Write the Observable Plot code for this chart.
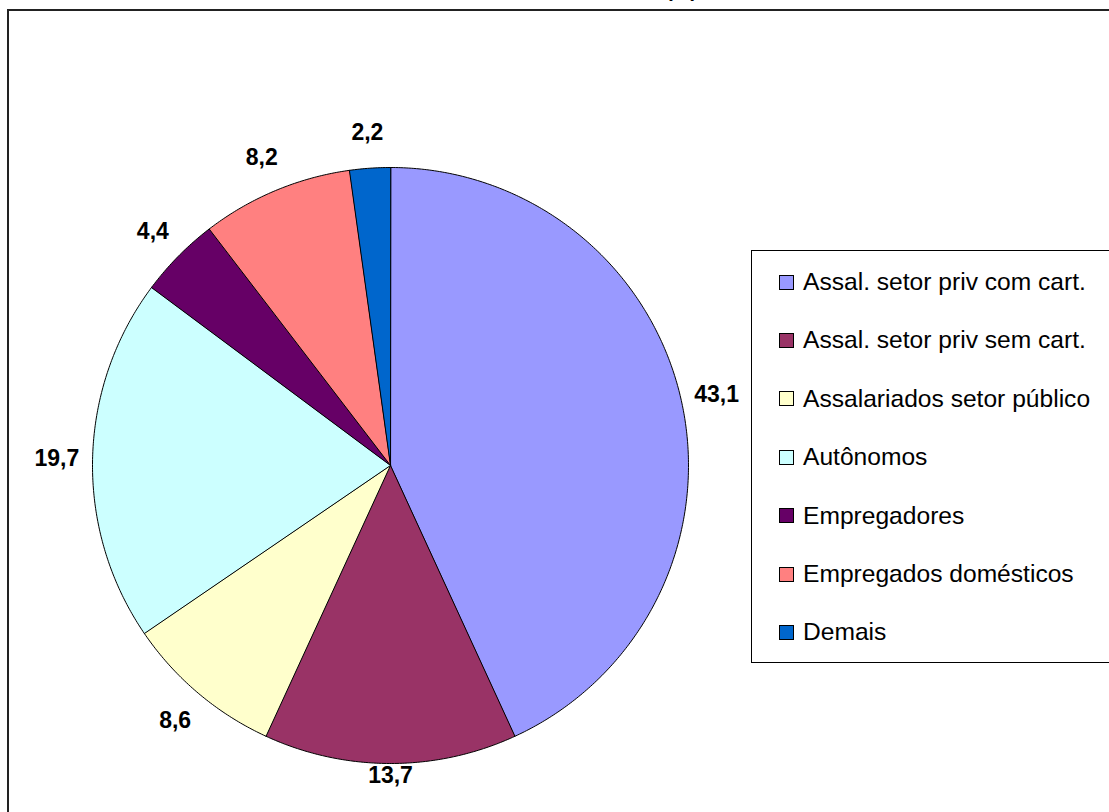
<!DOCTYPE html>
<html>
<head>
<meta charset="utf-8">
<script src="https://cdn.jsdelivr.net/npm/d3@7"></script>
<script src="https://cdn.jsdelivr.net/npm/@observablehq/plot@0.6"></script>
<style>
  html, body { margin: 0; padding: 0; background: #fff; overflow: hidden; }
  body { width: 1109px; height: 812px; position: relative; font-family: "Liberation Sans", Arial, sans-serif; }
  #frame { position: absolute; left: 7px; top: 9px; width: 1200px; height: 900px; border: 2px solid #222; box-sizing: border-box; }
  #title { position: absolute; left: 666px; top: -20px; font: bold 20px "Liberation Sans", Arial, sans-serif; line-height: 20px; white-space: nowrap; color: #000; }
  #chart { position: absolute; left: 0; top: 0; }
  #legend { position: absolute; left: 751px; top: 250px; width: 420px; height: 413px; border: 1px solid #000; box-sizing: border-box; background: #fff; }
  .item { position: absolute; left: 27px; height: 24px; display: flex; align-items: center; font-size: 24.6px; color: #000; white-space: nowrap; }
  .sw { width: 13px; height: 13px; border: 1px solid #000; margin-right: 9px; flex: none; }
</style>
</head>
<body>
<div id="frame"></div>
<div id="title">(%)</div>
<div id="chart"></div>
<div id="legend"></div>
<script>
// Data
const categories = [
  "Assal. setor priv com cart.",
  "Assal. setor priv sem cart.",
  "Assalariados setor público",
  "Autônomos",
  "Empregadores",
  "Empregados domésticos",
  "Demais"
];
const values = [43.1, 13.7, 8.6, 19.7, 4.4, 8.2, 2.2];
const colors = ["#9999FF", "#993366", "#FFFFCC", "#CCFFFF", "#660066", "#FF8080", "#0066CC"];

// Pie geometry (angles clockwise from 12 o'clock)
const pie = d3.pie().sort(null).value(d => d.value);
const arcs = pie(categories.map((name, i) => ({name, value: values[i]})));

const poly = [];
arcs.forEach(a => {
  const name = a.data.name;
  poly.push({name, x: 0, y: 0});
  const n = Math.max(2, Math.ceil((a.endAngle - a.startAngle) / (Math.PI / 360)));
  for (let k = 0; k <= n; k++) {
    const t = a.startAngle + (a.endAngle - a.startAngle) * k / n;
    poly.push({name, x: Math.sin(t), y: Math.cos(t)});
  }
});

const labels = arcs.map(a => {
  const m = (a.startAngle + a.endAngle) / 2;
  return {
    label: a.data.value.toFixed(1).replace(".", ","),
    x: Math.sin(m) * 1.12,
    y: Math.max(Math.cos(m) * 1.12, -1.04)
  };
});

const cx = 390, cy = 465, r = 298;
const chart = Plot.plot({
  width: 1109,
  height: 812,
  margin: 0,
  style: {background: "transparent", overflow: "visible"},
  x: {domain: [-1, 1], range: [cx - r, cx + r], axis: null},
  y: {domain: [-1, 1], range: [cy + r, cy - r], axis: null},
  color: {type: "ordinal", domain: categories, range: colors},
  marks: [
    Plot.line(poly, {x: "x", y: "y", z: "name", fill: "name", stroke: "#000", strokeWidth: 1, curve: "linear-closed"}),
    Plot.text(labels, {x: "x", y: "y", text: "label", fontSize: 23, fontWeight: "bold", fill: "#000", fontFamily: "Liberation Sans, Arial, sans-serif"})
  ]
});
document.getElementById("chart").appendChild(chart);

// Legend
const legend = document.getElementById("legend");
categories.forEach((name, i) => {
  const it = document.createElement("div");
  it.className = "item";
  it.style.top = (19 + i * 58.4) + "px";
  const sw = document.createElement("span");
  sw.className = "sw";
  sw.style.background = colors[i];
  const tx = document.createElement("span");
  tx.textContent = name;
  it.appendChild(sw);
  it.appendChild(tx);
  legend.appendChild(it);
});
</script>
</body>
</html>
